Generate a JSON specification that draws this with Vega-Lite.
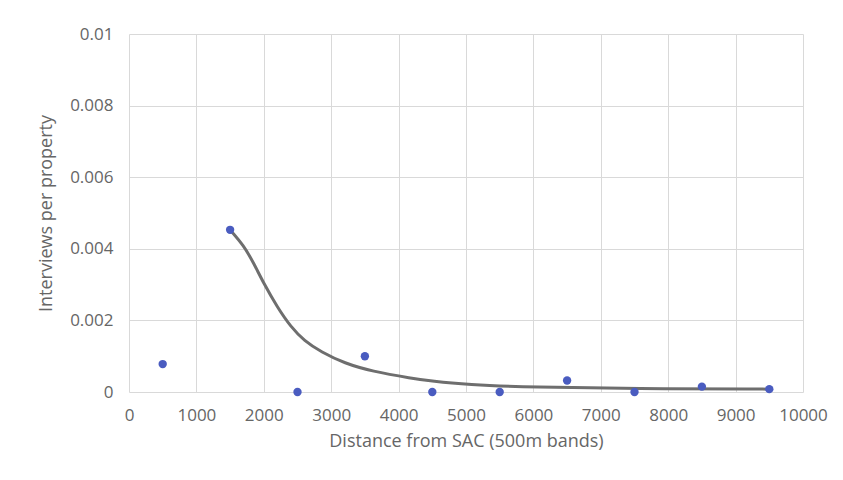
{
  "$schema": "https://vega.github.io/schema/vega-lite/v6.json",
  "width": 674,
  "height": 358,
  "autosize": "none",
  "padding": {"left": 129, "top": 34, "right": 40, "bottom": 88},
  "background": "white",
  "config": {
    "view": {"stroke": null},
    "font": "Open Sans",
    "axis": {
      "labelFont": "Open Sans",
      "titleFont": "Open Sans",
      "labelFontSize": 17,
      "titleFontSize": 18,
      "labelColor": "#666666",
      "titleColor": "#666666",
      "titleFontWeight": "normal",
      "gridColor": "#d9d9d9",
      "gridWidth": 1,
      "domain": false,
      "ticks": false,
      "labelFlush": false,
      "labelOverlap": false
    }
  },
  "datasets": {
    "points": [
      {"distance": 500, "rate": 0.00078},
      {"distance": 1500, "rate": 0.00453},
      {"distance": 2500, "rate": 0.0},
      {"distance": 3500, "rate": 0.001},
      {"distance": 4500, "rate": 0.0},
      {"distance": 5500, "rate": 0.0},
      {"distance": 6500, "rate": 0.00032},
      {"distance": 7500, "rate": 0.0},
      {"distance": 8500, "rate": 0.00015},
      {"distance": 9500, "rate": 0.00008}
    ],
    "trend": [
      {"distance": 1500, "fit": 0.00453},
      {"distance": 1700, "fit": 0.0041},
      {"distance": 1850, "fit": 0.0036},
      {"distance": 2000, "fit": 0.00303},
      {"distance": 2200, "fit": 0.00237},
      {"distance": 2400, "fit": 0.00182},
      {"distance": 2600, "fit": 0.00143},
      {"distance": 2850, "fit": 0.00112},
      {"distance": 3200, "fit": 0.0008},
      {"distance": 3600, "fit": 0.00058},
      {"distance": 4200, "fit": 0.00038},
      {"distance": 4500, "fit": 0.0003},
      {"distance": 5000, "fit": 0.00021},
      {"distance": 6000, "fit": 0.00013},
      {"distance": 7500, "fit": 0.00009},
      {"distance": 9500, "fit": 0.00008}
    ]
  },
  "layer": [
    {
      "data": {"name": "trend"},
      "mark": {"type": "line", "color": "#6e6e6e", "strokeWidth": 3, "interpolate": "basis"},
      "encoding": {
        "x": {
          "field": "distance", "type": "quantitative",
          "scale": {"domain": [0, 10000], "nice": false},
          "axis": {"values": [0,1000,2000,3000,4000,5000,6000,7000,8000,9000,10000], "format": "d", "labelPadding": 15, "title": "Distance from SAC (500m bands)", "titlePadding": 9}
        },
        "y": {
          "field": "fit", "type": "quantitative",
          "scale": {"domain": [0, 0.01], "nice": false},
          "axis": {"values": [0, 0.002, 0.004, 0.006, 0.008, 0.01], "labelExpr": "datum.value == 0 ? '0' : format(datum.value, '~g')", "labelPadding": 16, "title": "Interviews per property", "titlePadding": 14}
        }
      }
    },
    {
      "data": {"name": "points"},
      "mark": {"type": "circle", "color": "#4a5cc0", "opacity": 1, "size": 70},
      "encoding": {
        "x": {"field": "distance", "type": "quantitative"},
        "y": {"field": "rate", "type": "quantitative"}
      }
    }
  ]
}
